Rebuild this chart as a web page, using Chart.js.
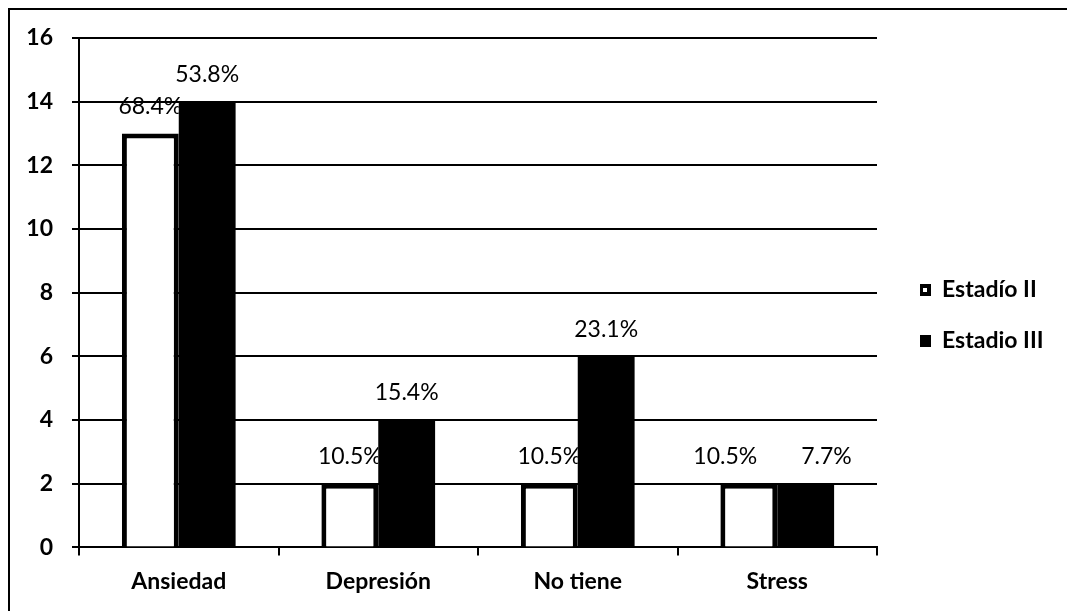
<!DOCTYPE html>
<html><head><meta charset="utf-8">
<script src="https://cdn.jsdelivr.net/npm/chart.js@4.4.0/dist/chart.umd.min.js"></script>
<style>html,body{margin:0;padding:0;background:#fff}#wrap{position:relative;width:1067px;height:611px}</style>
</head><body><div id="wrap"><canvas id="c" width="1067" height="611"></canvas></div>
<script>
const categories = ['Ansiedad', 'Depresión', 'No tiene', 'Stress'];
const seriesNames = ['Estadío II', 'Estadio III'];
const estadioII = [13, 2, 2, 2];
const estadioIII = [14, 4, 6, 2];
const labelsII = ['68.4%', '10.5%', '10.5%', '10.5%'];
const labelsIII = ['53.8%', '15.4%', '23.1%', '7.7%'];
const yTicks = [0, 2, 4, 6, 8, 10, 12, 14, 16];

const FONT = 'Lato, "Open Sans", sans-serif';
const LABEL_FONT = '23px ' + FONT;
const LABEL_GAP = 27;

const framePlugin = {
  id: 'frame',
  beforeDraw(chart) {
    const ctx = chart.ctx;
    ctx.save();
    ctx.fillStyle = '#fff';
    ctx.fillRect(0, 0, chart.width, chart.height);
    ctx.strokeStyle = '#000';
    ctx.lineWidth = 2;
    ctx.beginPath();
    ctx.moveTo(9, chart.height);
    ctx.lineTo(9, 9);
    ctx.lineTo(chart.width, 9);
    ctx.stroke();
    ctx.restore();
  }
};

// label centre positions, pushing apart labels of the same category that collide
function labelPositions(chart) {
  const ctx = chart.ctx;
  ctx.save();
  ctx.font = LABEL_FONT;
  const m0 = chart.getDatasetMeta(0), m1 = chart.getDatasetMeta(1);
  const d0 = chart.data.datasets[0], d1 = chart.data.datasets[1];
  const pos = [[], []];
  m0.data.forEach((e0, j) => {
    const e1 = m1.data[j];
    const w0 = ctx.measureText(d0.pctLabels[j]).width;
    const w1 = ctx.measureText(d1.pctLabels[j]).width;
    let x0 = e0.x, x1 = e1.x;
    const y0 = e0.y - LABEL_GAP, y1 = e1.y - LABEL_GAP;
    if (Math.abs(y0 - y1) < 20 && (x0 + w0 / 2) + 6 > (x1 - w1 / 2)) {
      const mid = (e0.x + e1.x) / 2;
      x0 = mid - 20 - w0 / 2;
      x1 = mid + 24 + w1 / 2;
    }
    pos[0].push({ x: x0, y: y0 });
    pos[1].push({ x: x1, y: y1 });
  });
  ctx.restore();
  return pos;
}

const dataLabelPlugin = {
  id: 'dataLabels',
  afterDatasetsDraw(chart) {
    const ctx = chart.ctx;
    const pos = labelPositions(chart);
    ctx.save();
    ctx.font = LABEL_FONT;
    ctx.fillStyle = '#000';
    ctx.textAlign = 'center';
    ctx.textBaseline = 'middle';
    // first series' labels sit underneath the second series' bars
    ctx.save();
    ctx.beginPath();
    ctx.rect(0, 0, chart.width, chart.height);
    chart.getDatasetMeta(1).data.forEach(el => {
      const p = el.getProps(['x', 'y', 'base', 'width'], true);
      ctx.rect(p.x - p.width / 2, p.y, p.width, p.base - p.y);
    });
    ctx.clip('evenodd');
    pos[0].forEach((p, j) => ctx.fillText(chart.data.datasets[0].pctLabels[j], p.x, p.y));
    ctx.restore();
    pos[1].forEach((p, j) => ctx.fillText(chart.data.datasets[1].pctLabels[j], p.x, p.y));
    ctx.restore();
  }
};

const legendPlugin = {
  id: 'customLegend',
  afterDraw(chart) {
    const ctx = chart.ctx;
    ctx.save();
    ctx.font = 'bold 23px ' + FONT;
    ctx.textBaseline = 'middle';
    ctx.textAlign = 'left';
    const x0 = 920, ys = [290, 341];
    chart.data.datasets.forEach((ds, i) => {
      const y = ys[i];
      ctx.fillStyle = '#000';
      ctx.fillRect(x0, y - 6, 11, 12);
      if (i === 0) {
        ctx.fillStyle = '#fff';
        ctx.fillRect(x0 + 3, y - 2, 4, 4);
      }
      ctx.fillStyle = '#000';
      ctx.fillText(ds.label, x0 + 22, y);
    });
    ctx.restore();
  }
};

new Chart(document.getElementById('c'), {
  type: 'bar',
  data: {
    labels: categories,
    datasets: [
      { label: seriesNames[0], data: estadioII, pctLabels: labelsII,
        backgroundColor: '#fff', borderColor: '#000', borderWidth: 5 },
      { label: seriesNames[1], data: estadioIII, pctLabels: labelsIII,
        backgroundColor: '#000', borderColor: '#000', borderWidth: 0 }
    ]
  },
  options: {
    responsive: false,
    animation: false,
    devicePixelRatio: 1,
    categoryPercentage: 0.57,
    barPercentage: 1.0,
    layout: { padding: { left: 0, top: 38, right: 190, bottom: 4 } },
    plugins: { legend: { display: false }, tooltip: { enabled: false } },
    scales: {
      x: {
        grid: { drawOnChartArea: false, drawTicks: true, tickLength: 8, color: '#000', lineWidth: 2 },
        border: { display: true, color: '#000', width: 2 },
        ticks: { color: '#000', font: { family: FONT, size: 23, weight: 'bold' }, padding: 12 }
      },
      y: {
        min: 0, max: 16,
        afterBuildTicks(scale) { scale.ticks = yTicks.map(v => ({ value: v })); },
        afterFit(scale) { scale.width = 79; },
        grid: { color: '#000', lineWidth: 2, tickLength: 7 },
        border: { display: true, color: '#000', width: 2 },
        ticks: { color: '#000', font: { family: FONT, size: 23, weight: 'bold' }, padding: 19 }
      }
    }
  },
  plugins: [framePlugin, dataLabelPlugin, legendPlugin]
});
</script></body></html>
